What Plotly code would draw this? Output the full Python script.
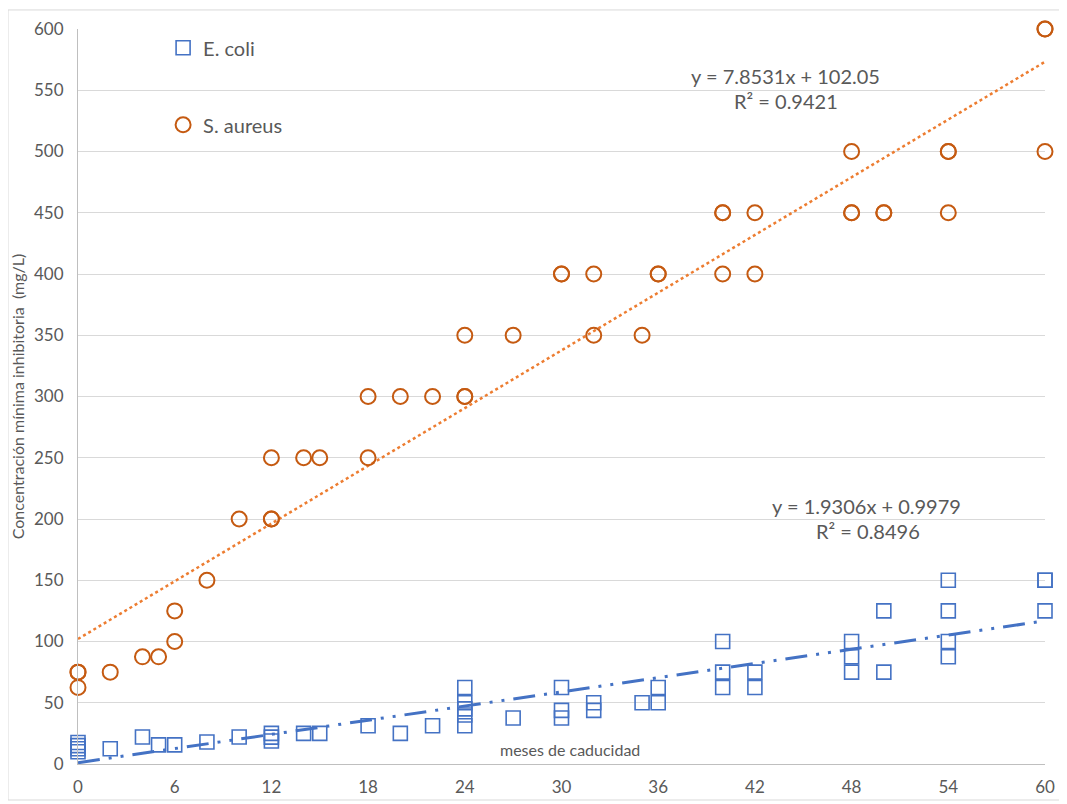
import plotly.graph_objects as go

# ---- data ----
saureus_x = [0, 0, 0, 2, 4, 5, 6, 6, 8, 10, 12, 12, 12, 14, 15, 18, 18, 20, 22, 24, 24, 24,
             27, 30, 30, 32, 32, 35, 36, 36, 40, 40, 40, 42, 42, 48, 48, 48, 50, 50, 54, 54, 54,
             60, 60, 60]
saureus_y = [75, 75, 62.5, 75, 87.5, 87.5, 125, 100, 150, 200, 250, 200, 200, 250, 250, 300, 250,
             300, 300, 350, 300, 300, 350, 400, 400, 400, 350, 350, 400, 400, 450, 450, 400, 450,
             400, 500, 450, 450, 450, 450, 500, 500, 450, 600, 600, 500]

ecoli_x = [0, 0, 0, 0, 2, 4, 5, 6, 8, 10, 12, 12, 12, 14, 15, 18, 20, 22,
           24, 24, 24, 24, 24, 27, 30, 30, 30, 32, 32, 35, 36, 36,
           40, 40, 40, 42, 42, 48, 48, 48, 50, 50, 54, 54, 54, 54, 60, 60, 60]
ecoli_y = [10, 12.5, 15, 17.5, 12.5, 22, 15.6, 15.6, 18, 22, 25, 21.9, 18.75, 25, 25, 31.25, 25, 31.25,
           62.5, 50, 45, 40, 31.25, 37.5, 62.5, 43.75, 37.5, 50, 43.75, 50, 62.5, 50,
           100, 75, 62.5, 75, 62.5, 100, 87.5, 75, 125, 75, 150, 125, 100, 87.5, 150, 150, 125]

# trendline coefficients as printed on the chart
sa_slope, sa_intercept, sa_r2 = 7.8531, 102.05, 0.9421
ec_slope, ec_intercept, ec_r2 = 1.9306, 0.9979, 0.8496
trend_x = [0, 60]

x_ticks = list(range(0, 61, 6))
y_ticks = list(range(0, 601, 50))

BLUE = "#4472C4"
ORANGE_M = "#C55A11"
ORANGE_L = "#ED7D31"
GRAY_T = "#595959"
FONT = "Lato"

fig = go.Figure()

fig.add_trace(go.Scatter(
    x=trend_x, y=[ec_slope * v + ec_intercept for v in trend_x], mode="lines",
    line=dict(color=BLUE, width=3, dash="22px,9px,3px,9px,3px,9px"),
    showlegend=False, hoverinfo="skip", cliponaxis=False))
fig.add_trace(go.Scatter(
    x=trend_x, y=[sa_slope * v + sa_intercept for v in trend_x], mode="lines",
    line=dict(color=ORANGE_L, width=2.5, dash="dot"),
    showlegend=False, hoverinfo="skip", cliponaxis=False))

fig.add_trace(go.Scatter(
    x=ecoli_x, y=ecoli_y, mode="markers", name="E. coli", legendgroup="a", cliponaxis=False,
    marker=dict(symbol="square-open", size=14, color=BLUE, line=dict(width=1.6, color=BLUE))))
fig.add_trace(go.Scatter(
    x=saureus_x, y=saureus_y, mode="markers", name="S. aureus", legendgroup="b", cliponaxis=False,
    marker=dict(symbol="circle-open", size=15, color=ORANGE_M, line=dict(width=2, color=ORANGE_M))))

ann = [
    dict(x=43.9, y=562, text=f"y = {sa_slope}x + {sa_intercept}"),
    dict(x=43.9, y=541, text=f"R² = {sa_r2}"),
    dict(x=48.95, y=211, text=f"y = {ec_slope}x + {ec_intercept}"),
    dict(x=49.0, y=190, text=f"R² = {ec_r2}"),
]
for a in ann:
    fig.add_annotation(x=a["x"], y=a["y"], text=a["text"], showarrow=False,
                       font=dict(family=FONT, size=20, color=GRAY_T), xref="x", yref="y")

fig.add_annotation(x=30.5, y=12, text="meses de caducidad", showarrow=False,
                   font=dict(family=FONT, size=16, color=GRAY_T), xref="x", yref="y")

# page: body has an 8px margin, so the figure sits at (8, 8) and overflows the window a bit
fig.add_shape(type="rect", xref="paper", yref="paper",
              x0=-0.0724, x1=1.0155, y0=-0.049, y1=1.0259,
              line=dict(color="#D9D9D9", width=1), fillcolor="rgba(0,0,0,0)", layer="below")

fig.update_layout(
    width=1059, height=796,
    margin=dict(l=70, r=22, t=21, b=40, autoexpand=False),
    paper_bgcolor="white", plot_bgcolor="white",
    font=dict(family=FONT, color=GRAY_T),
    legend=dict(x=0.088, y=1.001, xanchor="left", yanchor="top",
                bgcolor="rgba(0,0,0,0)", font=dict(family=FONT, size=20, color=GRAY_T),
                tracegroupgap=48, itemwidth=30),
    xaxis=dict(range=[0, 60], tickvals=x_ticks, showgrid=False, zeroline=False,
               showline=True, linecolor="#BFBFBF", linewidth=1, automargin=False,
               tickfont=dict(family=FONT, size=17, color=GRAY_T),
               ticks="outside", ticklen=8, tickcolor="rgba(0,0,0,0)"),
    yaxis=dict(range=[0, 600], tickvals=y_ticks, showgrid=True, gridcolor="#D9D9D9",
               gridwidth=1, zeroline=False, showline=True, linecolor="#BFBFBF", linewidth=1,
               automargin=False,
               tickfont=dict(family=FONT, size=17, color=GRAY_T),
               ticks="outside", ticklen=10, tickcolor="rgba(0,0,0,0)",
               title=dict(text="Concentración mínima inhibitoria  (mg/L)",
                          font=dict(family=FONT, size=16, color=GRAY_T), standoff=6)),
)

fig.write_html("out.html")
